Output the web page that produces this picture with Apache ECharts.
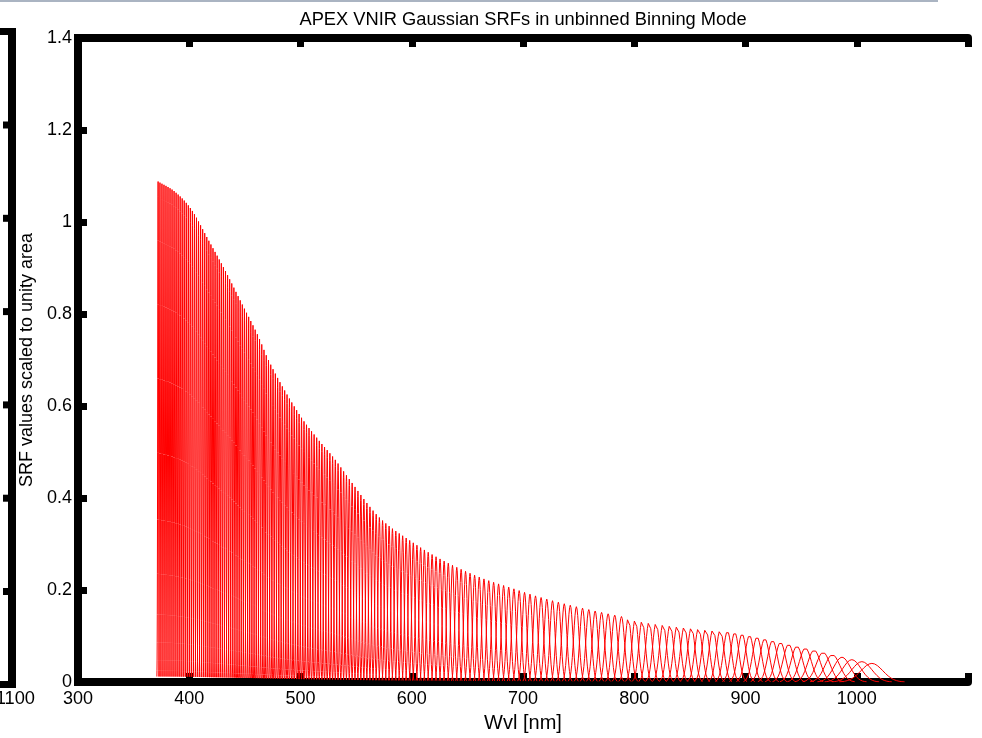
<!DOCTYPE html>
<html><head><meta charset="utf-8">
<script src="https://cdn.jsdelivr.net/npm/echarts@6/dist/echarts.min.js"></script>
<style>html,body{margin:0;padding:0;background:#fff}#c{width:982px;height:738px}</style>
</head><body><div id="c"></div>
<script>
const titleText = 'APEX VNIR Gaussian SRFs in unbinned Binning Mode';
const xAxisName = 'Wvl [nm]';
const yAxisName = 'SRF values scaled to unity area';
const xTickLabels = ['300','400','500','600','700','800','900','1000'];
const yTickLabels = ['0','0.2','0.4','0.6','0.8','1','1.2','1.4'];

// Peak height envelope of the SRFs (wavelength nm -> peak value)
const envWvl  = [372, 387, 402, 417, 432, 447, 462, 471, 500, 516, 531, 543, 570, 600, 626, 662, 689, 716, 764, 815, 853, 883, 913, 936, 961, 979, 997, 1014];
const envPeak = [1.088, 1.066, 1.027, 0.962, 0.896, 0.824, 0.752, 0.701, 0.578, 0.527, 0.484, 0.444, 0.36, 0.305, 0.267, 0.227, 0.205, 0.184, 0.155, 0.131, 0.119, 0.111, 0.097, 0.084, 0.070, 0.059, 0.048, 0.0405];

// Band-centre spacing (nm)
const spcWvl = [372, 450, 500, 550, 600, 650, 700, 750, 800, 850, 900, 950, 1000];
const spcNm  = [1.8, 1.9, 2.2, 2.6, 3.2, 4.0, 4.8, 5.5, 6.2, 6.4, 6.6, 7.5, 9.0];
const firstCentre = 372;
const lastCentre = 1013.6;

function lookup(xs, ys, x) {
  if (x <= xs[0]) return ys[0];
  for (let i = 1; i < xs.length; i++) {
    if (x <= xs[i]) { const t = (x - xs[i-1]) / (xs[i] - xs[i-1]); return ys[i-1] + t * (ys[i] - ys[i-1]); }
  }
  return ys[ys.length - 1];
}
// smooth (monotone cubic) lookup for the envelope
function smooth(xs, ys, x) {
  const n = xs.length;
  if (x <= xs[0]) return ys[0];
  if (x >= xs[n-1]) return ys[n-1];
  const d = [], m = [];
  for (let i = 0; i < n - 1; i++) d.push((ys[i+1] - ys[i]) / (xs[i+1] - xs[i]));
  m[0] = d[0]; m[n-1] = d[n-2];
  for (let i = 1; i < n - 1; i++) m[i] = (d[i-1] * d[i] <= 0) ? 0 : (d[i-1] + d[i]) / 2;
  let i = 0; while (x > xs[i+1]) i++;
  const h = xs[i+1] - xs[i], t = (x - xs[i]) / h;
  const h00 = 2*t*t*t - 3*t*t + 1, h10 = t*t*t - 2*t*t + t, h01 = -2*t*t*t + 3*t*t, h11 = t*t*t - t*t;
  return h00*ys[i] + h10*h*m[i] + h01*ys[i+1] + h11*h*m[i+1];
}

// band centres, stepped down from the last (reddest) band to the first
const centres = [];
for (let c = lastCentre; c >= firstCentre + 0.9; c -= lookup(spcWvl, spcNm, c)) centres.unshift(c);
centres.unshift(firstCentre);

const series = centres.map(c => {
  const peak = smooth(envWvl, envPeak, c);
  const sigma = 1 / (peak * Math.sqrt(2 * Math.PI)); // unity area
  const data = [];
  for (let k = -3; k <= 3.0001; k += 0.25) data.push([c + k * sigma, peak * Math.exp(-k * k / 2)]);
  return { type: 'line', data, showSymbol: false, silent: true, animation: false,
           lineStyle: { color: '#ff0000', width: 1 }, z: 2 };
});

const FONT = "'Liberation Sans', Arial, Helvetica, sans-serif";
const axisLineStyle = { color: '#000', width: 8 };

const chart = echarts.init(document.getElementById('c'), null, { renderer: 'canvas' });
chart.setOption({
  animation: false,
  backgroundColor: '#fff',
  grid: { left: 78, right: 14, top: 38, bottom: 54, containLabel: false },
  xAxis: [{
    type: 'value', min: 300, max: 1100, interval: 100, position: 'bottom',
    name: xAxisName, nameLocation: 'middle', nameGap: 24,
    nameTextStyle: { fontFamily: FONT, fontSize: 20, color: '#000' },
    axisLine: { onZero: false, lineStyle: axisLineStyle },
    axisTick: { inside: true, length: 9, lineStyle: { color: '#000', width: 7 } },
    axisLabel: { fontFamily: FONT, fontSize: 18, color: '#000', margin: 8,
                 formatter: v => { const i = Math.round((v - 300) / 100); return i < xTickLabels.length ? xTickLabels[i] : ''; } },
    splitLine: { show: false }
  }, {
    type: 'value', min: 300, max: 1100, interval: 100, position: 'top',
    axisLine: { onZero: false, lineStyle: axisLineStyle },
    axisTick: { inside: true, length: 9, lineStyle: { color: '#000', width: 7 } },
    axisLabel: { show: false }, splitLine: { show: false }
  }],
  yAxis: [{
    type: 'value', min: 0, max: 1.4, interval: 0.2,
    name: yAxisName, nameLocation: 'middle', nameGap: 33, nameRotate: 90,
    nameTextStyle: { fontFamily: FONT, fontSize: 18, color: '#000' },
    axisLine: { onZero: false, lineStyle: Object.assign({ cap: 'square' }, axisLineStyle) },
    axisTick: { inside: true, length: 9, lineStyle: { color: '#000', width: 7 } },
    axisLabel: { fontFamily: FONT, fontSize: 18, color: '#000', margin: 6,
                 formatter: v => yTickLabels[Math.round(v / 0.2)] },
    splitLine: { show: false }
  }],
  graphic: [
    { type: 'text', x: 523, y: 20, style: { text: titleText, fontFamily: FONT, fontSize: 18.3, fill: '#000', align: 'center', verticalAlign: 'middle' } },
    { type: 'rect', left: 0, top: 0, shape: { width: 938, height: 2 }, style: { fill: '#aab4c2' } },
    { type: 'rect', left: 8, top: 28, shape: { width: 8, height: 660 }, style: { fill: '#000' } },
    { type: 'rect', left: 0, top: 28, shape: { width: 16, height: 7 }, style: { fill: '#000' } },
    { type: 'rect', left: 0, top: 681, shape: { width: 16, height: 7 }, style: { fill: '#000' } },
    ...[125, 218.3, 311.6, 404.9, 498.2, 591.5].map(y => ({ type: 'rect', left: 3, top: y - 3.5, shape: { width: 6, height: 7 }, style: { fill: '#000' } })),
    { type: 'text', x: 35, y: 699, style: { text: '1100', fontFamily: FONT, fontSize: 18.3, fill: '#000', align: 'right', verticalAlign: 'middle' } }
  ],
  series
});
</script></body></html>
